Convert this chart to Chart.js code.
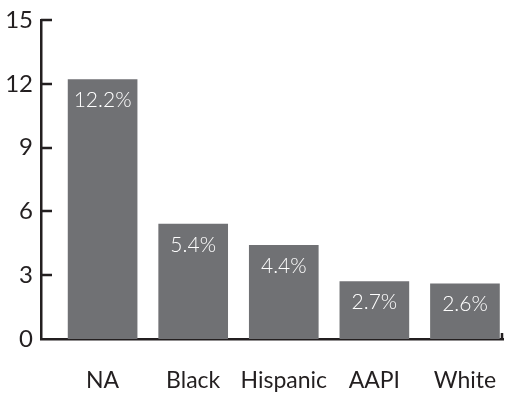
<!DOCTYPE html>
<html>
<head>
<meta charset="utf-8">
<script src="https://cdn.jsdelivr.net/npm/chart.js@4"></script>
<style>
  html, body { margin: 0; padding: 0; background: #fff; }
  #wrap { width: 505px; height: 395px; position: relative; }
</style>
</head>
<body>
<div id="wrap"><canvas id="chart"></canvas></div>
<script>
const groups = ["NA", "Black", "Hispanic", "AAPI", "White"];
const rates = [12.2, 5.4, 4.4, 2.7, 2.6];
const yTicks = [0, 3, 6, 9, 12, 15];

const ink = "#231f20";
const barGray = "#707174";
const font = "Lato, 'Open Sans', sans-serif";

// short tick marks pointing into the plot from the y axis, plus the end tick of the x axis
const innerTicks = {
  id: "innerTicks",
  afterDraw(chart) {
    const ctx = chart.ctx;
    const y = chart.scales.y;
    const area = chart.chartArea;
    ctx.save();
    ctx.strokeStyle = ink;
    ctx.lineWidth = 2.5;
    ctx.beginPath();
    yTicks.forEach(v => {
      if (v === 0) return;
      const py = Math.round(y.getPixelForValue(v));
      ctx.moveTo(area.left, py);
      ctx.lineTo(area.left + 11, py);
    });
    ctx.moveTo(area.right - 1, area.bottom);
    ctx.lineTo(area.right - 1, area.bottom - 6);
    ctx.stroke();
    ctx.restore();
  }
};

// percentage written in white just inside the top of each bar
const barValues = {
  id: "barValues",
  afterDatasetsDraw(chart) {
    const ctx = chart.ctx;
    const meta = chart.getDatasetMeta(0);
    ctx.save();
    ctx.fillStyle = "#ffffff";
    ctx.font = "300 21px " + font;
    ctx.textAlign = "center";
    ctx.textBaseline = "middle";
    meta.data.forEach((bar, i) => {
      ctx.fillText(rates[i].toFixed(1) + "%", bar.x, bar.y + 21);
    });
    ctx.restore();
  }
};

new Chart(document.getElementById("chart"), {
  type: "bar",
  data: {
    datasets: [{
      data: rates.map((r, i) => ({ x: i, y: r })),
      backgroundColor: barGray,
      borderWidth: 0,
      barThickness: 69
    }]
  },
  options: {
    responsive: true,
    maintainAspectRatio: false,
    animation: false,
    layout: { padding: { top: 20, right: 2, left: 0, bottom: 0 } },
    plugins: { legend: { display: false }, tooltip: { enabled: false } },
    scales: {
      x: {
        type: "linear",
        offset: false,
        min: -0.68,
        max: 4.42,
        grid: { display: false, drawTicks: false, offset: false },
        border: { display: true, color: ink, width: 2.5 },
        afterBuildTicks: axis => { axis.ticks = groups.map((g, i) => ({ value: i })); },
        afterFit: axis => {
          axis.height = 56;
          axis.paddingLeft = 0;
          axis.paddingRight = 0;
        },
        ticks: {
          callback: v => groups[v],
          color: ink,
          font: { family: font, size: 23, weight: 400 },
          padding: 28,
          maxRotation: 0,
          autoSkip: false
        }
      },
      y: {
        min: 0,
        max: 15,
        grid: { display: false, drawTicks: false },
        border: { display: true, color: ink, width: 2.5 },
        afterBuildTicks: axis => { axis.ticks = yTicks.map(v => ({ value: v })); },
        afterFit: axis => {
          axis.width = 41;
          axis.paddingTop = 0;
          axis.paddingBottom = 0;
        },
        ticks: {
          color: ink,
          font: { family: font, size: 24, weight: 400 },
          padding: 8
        }
      }
    }
  },
  plugins: [innerTicks, barValues]
});
</script>
</body>
</html>
